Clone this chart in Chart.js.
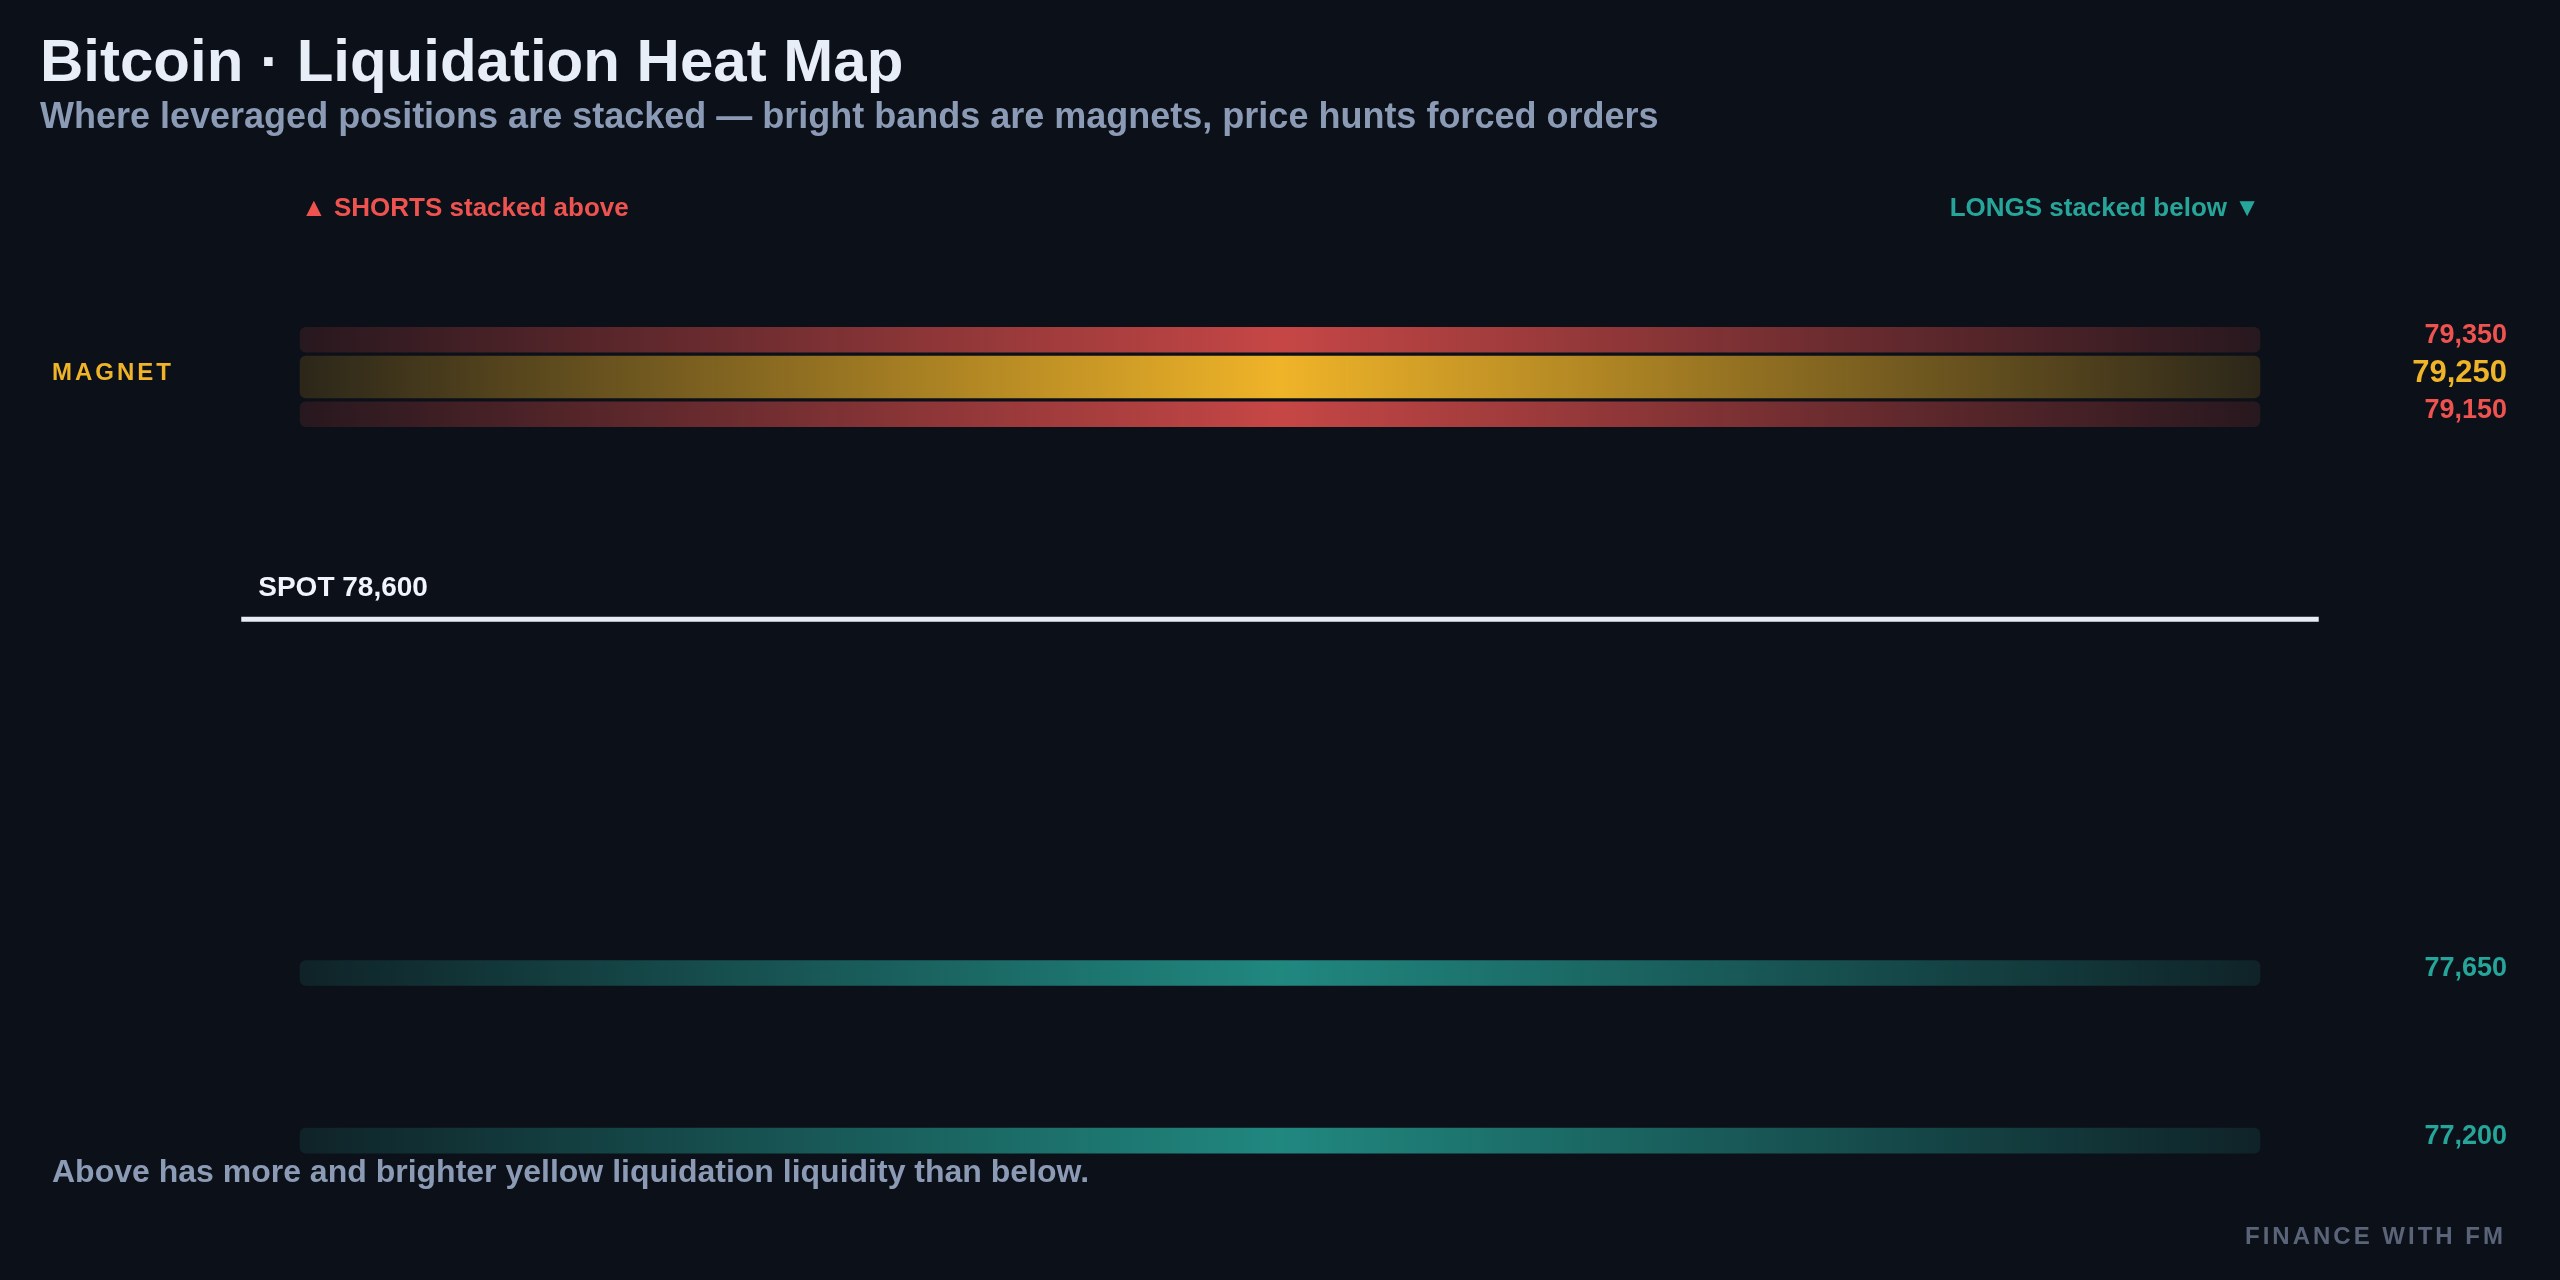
<!DOCTYPE html>
<html>
<head>
<meta charset="utf-8">
<title>Bitcoin · Liquidation Heat Map</title>
<script src="https://cdn.jsdelivr.net/npm/chart.js@4.4.1/dist/chart.umd.min.js"></script>
<style>
  html, body { margin:0; padding:0; width:2560px; height:1280px; overflow:hidden;
    background:#0c1018; font-family:"Liberation Sans", Arial, sans-serif; }
  #wrap { position:absolute; left:0; top:0; width:2560px; height:1280px; }
  .t { position:absolute; line-height:1; font-weight:700; white-space:nowrap; }
</style>
</head>
<body>
<div id="wrap"><canvas id="heat"></canvas></div>

<div class="t" style="left:40px;top:31px;font-size:60px;color:#e8eef8">Bitcoin · Liquidation Heat Map</div>
<div class="t" style="left:40px;top:98px;font-size:36px;color:#8b9ab5">Where leveraged positions are stacked — bright bands are magnets, price hunts forced orders</div>
<div class="t" style="left:301px;top:194px;font-size:26px;color:#ef5350">▲ SHORTS stacked above</div>
<div class="t" style="right:300px;top:194px;font-size:26px;color:#26a69a">LONGS stacked below ▼</div>
<div class="t" style="left:52px;top:1155px;font-size:32px;color:#8b9ab5">Above has more and brighter yellow liquidation liquidity than below.</div>
<div class="t" style="right:54px;top:1224px;font-size:24px;letter-spacing:3px;color:#5a6478">FINANCE WITH FM</div>

<script>
// price levels (BTC, USD)
const shortLevels  = [79350, 79150];
const magnetLevels = [79250];
const longLevels   = [77650, 77200];
const spotPrice    = 78600;
// horizontal extent of the heat bands and the spot line
const bandSpan = [0, 100];
const spotSpan = [-3, 103];

const fmt = v => v.toLocaleString("en-US");

function heat(rgb, edge, peak) {
  return (c) => {
    const chart = c.chart;
    if (!chart.chartArea) return `rgba(${rgb},${edge})`;
    const xs = chart.scales.x;
    const g = chart.ctx.createLinearGradient(
      xs.getPixelForValue(bandSpan[0]), 0, xs.getPixelForValue(bandSpan[1]), 0);
    g.addColorStop(0,   `rgba(${rgb},${edge})`);
    g.addColorStop(0.5, `rgba(${rgb},${peak})`);
    g.addColorStop(1,   `rgba(${rgb},${edge})`);
    return g;
  };
}

function band(label, levels, thickness, color) {
  return {
    label,
    data: levels.map(p => ({ x: bandSpan, y: p })),
    backgroundColor: color,
    barThickness: thickness,
    borderRadius: 6,
    borderSkipped: false,
    stack: "bands",
    order: 2,
  };
}

const labels = {
  id: "levelLabels",
  afterDatasetsDraw(chart) {
    const { ctx, chartArea, scales: { x, y } } = chart;
    const right = chartArea.right - 53;
    ctx.save();
    ctx.textBaseline = "middle";

    ctx.textAlign = "right";
    ctx.font = 'bold 27px "Liberation Sans", Arial, sans-serif';
    ctx.fillStyle = "#ef5350";
    shortLevels.forEach(p => ctx.fillText(fmt(p), right, y.getPixelForValue(p) - 4));
    ctx.fillStyle = "#26a69a";
    longLevels.forEach(p => ctx.fillText(fmt(p), right, y.getPixelForValue(p) - 4));
    ctx.font = 'bold 31px "Liberation Sans", Arial, sans-serif';
    ctx.fillStyle = "#f0b429";
    magnetLevels.forEach(p => ctx.fillText(fmt(p), right, y.getPixelForValue(p) - 4));

    // magnet tag on the left
    ctx.textAlign = "left";
    ctx.font = 'bold 24px "Liberation Sans", Arial, sans-serif';
    ctx.letterSpacing = "3px";
    magnetLevels.forEach(p => ctx.fillText("MAGNET", 52, y.getPixelForValue(p) - 4));
    ctx.letterSpacing = "0px";

    // spot tag
    ctx.font = 'bold 28px "Liberation Sans", Arial, sans-serif';
    ctx.fillStyle = "#f1f5fb";
    ctx.fillText("SPOT " + fmt(spotPrice), x.getPixelForValue(spotSpan[0]) + 17, y.getPixelForValue(spotPrice) - 31);
    ctx.restore();
  }
};

new Chart(document.getElementById("heat").getContext("2d"), {
  type: "bar",
  data: {
    datasets: [
      band("Shorts", shortLevels, 25, heat("239,83,80", 0.12, 0.82)),
      band("Magnet", magnetLevels, 42, heat("240,180,41", 0.14, 1)),
      band("Longs", longLevels, 25, heat("38,166,154", 0.13, 0.8)),
      {
        type: "line",
        label: "Spot",
        indexAxis: "x",
        data: spotSpan.map(v => ({ x: v, y: spotPrice })),
        borderColor: "#e8edf5",
        borderWidth: 5,
        borderCapStyle: "butt",
        pointRadius: 0,
        order: 1,
      },
    ],
  },
  options: {
    indexAxis: "y",
    responsive: true,
    maintainAspectRatio: false,
    animation: false,
    layout: { padding: 0 },
    plugins: { legend: { display: false }, tooltip: { enabled: false } },
    scales: {
      x: { type: "linear", min: -15.31, max: 115.31, stacked: false, offset: false, display: false },
      y: { type: "linear", min: 76826, max: 80262, offset: false, display: false },
    },
  },
  plugins: [labels],
});
</script>
</body>
</html>
